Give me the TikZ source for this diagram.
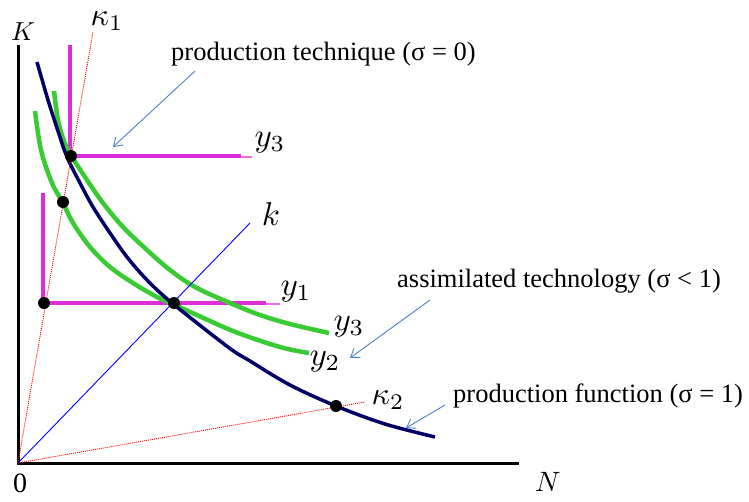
\documentclass[tikz,border=0pt]{standalone}
\usepackage{fontspec}
\setmainfont{Liberation Serif}
\usepackage{tikz}
\usetikzlibrary{arrows.meta}

\definecolor{techmag}{RGB}{221,46,216}
\definecolor{assimgreen}{RGB}{58,202,52}
\definecolor{funcnavy}{RGB}{0,0,102}
\definecolor{noteblue}{RGB}{74,128,198}

\begin{document}
\begin{tikzpicture}[
  x=1pt,y=-1pt,
  dot/.style={circle,fill=black,inner sep=0pt,minimum size=12pt},
  mlabel/.style={inner sep=0pt,scale=3.3},
  tlabel/.style={inner sep=0pt,anchor=base west,font=\fontsize{26.5}{30}\selectfont},
  ray/.style={red,line width=0.9pt,dash pattern=on 1pt off 1pt},
  technique/.style={techmag,line width=3.5pt},
  isoquant/.style={assimgreen,line width=4.5pt},
  note/.style={noteblue,line width=0.9pt,-{Straight Barb[length=8pt,width=11pt]}}
]
  \useasboundingbox (0,0) rectangle (749,501);
  \coordinate (O) at (18,463);
  \coordinate (Ktop) at (18,45);
  \coordinate (Nend) at (519,463);
  \coordinate (r1) at (93,32);
  \coordinate (r2) at (365,402);
  \coordinate (rk) at (250,223);
  \node[inner sep=0pt,scale=2.6] (K) at (23,32) {$K$};
  \node[inner sep=0pt,scale=2.8] (N) at (548,482) {$N$};
  \node[inner sep=0pt,font=\fontsize{28}{32}\selectfont] (zero) at (20,483) {0};
  \node[mlabel,scale=0.97] (k1) at (107,21) {$\kappa_1$};
  \node[mlabel,scale=0.97] (k2) at (388,400) {$\kappa_2$};
  \node[mlabel] (kk) at (271,214) {$k$};
  \node[mlabel] (ytop) at (270,143) {$y_3$};
  \node[mlabel] (y1) at (296,292) {$y_1$};
  \node[mlabel] (y3) at (349,327) {$y_3$};
  \node[mlabel] (y2) at (325,362) {$y_2$};
  \node[tlabel] (ptech) at (171,60) {production technique (σ = 0)};
  \node[tlabel] (atech) at (397,287) {assimilated technology (σ < 1)};
  \node[tlabel] (pfunc) at (453,402) {production function (σ = 1)};
  \draw[black,line width=3pt] (Ktop) -- (O) -- (Nend);
  \draw[technique] (70,45) -- (70,156) -- (241,156);
  \draw[techmag!70,line width=2pt] (241,157) -- (252,157);
  \draw[technique] (43,193) -- (43,303) -- (266,303);
  \draw[techmag!70,line width=2pt] (266,304) -- (280,304);
  \draw[isoquant] plot[smooth,tension=0.55] coordinates {(54,91) (58,120) (64,141) (72,157) (87,180) (103,203) (123,227) (147,250) (170,270) (195,287) (230,303) (260,315) (290,324) (329,333)};
  \draw[isoquant] plot[smooth,tension=0.55] coordinates {(35,111) (41,150) (52,183) (63,203) (73,223) (90,247) (110,267) (133,283) (157,297) (175,305) (233,331) (280,347) (309,353)};
  \draw[funcnavy,line width=3.5pt] plot[smooth,tension=0.55] coordinates {(37,62) (48,100) (58,131) (67,157) (80,183) (93,207) (110,233) (127,257) (147,280) (172,303) (228,347) (250,361) (290,385) (336,406) (385,424) (435,437)};
  \draw[ray] (O) -- (r1);
  \draw[ray] (O) -- (r2);
  \draw[blue,line width=0.9pt] (O) -- (rk);
  \node[dot] (d1) at (71,156) {};
  \node[dot] (d2) at (63,202) {};
  \node[dot] (d3) at (44,303) {};
  \node[dot] (d4) at (174,303) {};
  \node[dot] (d5) at (336,406) {};
  \coordinate (n1s) at (195,71);
  \coordinate (n1e) at (113,147);
  \coordinate (n2s) at (430,300);
  \coordinate (n2e) at (350,358);
  \coordinate (n3s) at (445,405);
  \coordinate (n3e) at (406,428);
  \draw[note] (n1s) -- (n1e);
  \draw[note] (n2s) -- (n2e);
  \draw[note] (n3s) -- (n3e);
\end{tikzpicture}
\end{document}
